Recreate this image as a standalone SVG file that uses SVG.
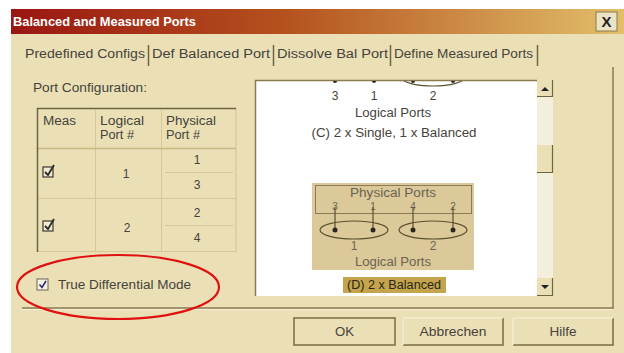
<svg xmlns="http://www.w3.org/2000/svg" width="624" height="353" viewBox="0 0 624 353">
<defs>
<linearGradient id="tb" x1="0" y1="0" x2="1" y2="0">
<stop offset="0" stop-color="#9a1612"/>
<stop offset="0.45" stop-color="#b5521e"/>
<stop offset="1" stop-color="#e2bf6a"/>
</linearGradient>
<clipPath id="pv"><rect x="256" y="81" width="281" height="215"/></clipPath>
</defs>
<style>
text{font-family:"Liberation Sans",Arial,sans-serif;font-size:12px;fill:#45433a}
.c{text-anchor:middle}
.grid{stroke:#d6c896;stroke-width:1;fill:none}
.dk{stroke:#6e6440;stroke-width:1.5;fill:none}
.btn{fill:#ebdfb6;stroke:#7a6c44;stroke-width:1.5}
.chk{fill:#f2ead0;stroke:#4a4636;stroke-width:1.3}
.mark{fill:none;stroke:#2a2a2a;stroke-width:1.8}
.wire{stroke:#5a5030;stroke-width:1.2;fill:none}
.dot{fill:#2a2820}
</style>
<rect width="624" height="353" fill="#ffffff"/>
<g id="dialog">
<rect x="11" y="9" width="613" height="344" fill="#ebdfb6"/>
<rect x="11" y="9" width="613" height="25" fill="url(#tb)"/>
<text x="13" y="26" style="font-weight:bold;fill:#ffffff;font-size:12px" textLength="183" lengthAdjust="spacingAndGlyphs">Balanced and Measured Ports</text>
<g id="close">
<rect x="596" y="12" width="21" height="19" fill="#ece3c4" stroke="#8a7a50"/>
<text x="606.5" y="27" class="c" style="font-weight:bold;font-size:15px;fill:#222">X</text>
</g>
</g>
<g id="tabs">
<text x="25" y="58" textLength="120" lengthAdjust="spacingAndGlyphs">Predefined Configs</text>
<line x1="148.5" y1="45" x2="148.5" y2="66" stroke="#6e6440" stroke-width="1.5"/>
<text x="152" y="58" textLength="118" lengthAdjust="spacingAndGlyphs">Def Balanced Port</text>
<line x1="273.5" y1="45" x2="273.5" y2="66" stroke="#6e6440" stroke-width="1.5"/>
<text x="277" y="58" textLength="111" lengthAdjust="spacingAndGlyphs">Dissolve Bal Port</text>
<line x1="390.5" y1="45" x2="390.5" y2="66" stroke="#6e6440" stroke-width="1.5"/>
<text x="394" y="58" textLength="139" lengthAdjust="spacingAndGlyphs">Define Measured Ports</text>
<line x1="537.5" y1="45" x2="537.5" y2="66" stroke="#6e6440" stroke-width="1.5"/>
</g>
<g id="panel">
<line x1="613" y1="67" x2="613" y2="309" stroke="#8a7a50" stroke-width="1.5"/>
<line x1="22" y1="308" x2="613" y2="308" stroke="#8a7a50" stroke-width="1.5"/>
<line x1="22" y1="309.5" x2="613" y2="309.5" stroke="#f6efd6" stroke-width="1"/>
<text x="33" y="92" textLength="114" lengthAdjust="spacingAndGlyphs">Port Configuration:</text>
</g>
<g id="table">
<line x1="95.5" y1="110" x2="95.5" y2="252" class="grid"/>
<line x1="161.5" y1="110" x2="161.5" y2="252" class="grid"/>
<line x1="37" y1="148.5" x2="236" y2="148.5" stroke="#c9b886" stroke-width="1.5"/>
<line x1="37" y1="198.5" x2="236" y2="198.5" class="grid"/>
<line x1="165" y1="172.5" x2="233" y2="172.5" class="grid"/>
<line x1="165" y1="225.5" x2="233" y2="225.5" class="grid"/>
<line x1="37" y1="251.5" x2="236" y2="251.5" class="grid"/>
<line x1="236" y1="108" x2="236" y2="252" stroke="#d0c290" stroke-width="1"/>
<path d="M37.5 252 V108.5 H236" class="dk"/>
<text x="43" y="125" textLength="33" lengthAdjust="spacingAndGlyphs">Meas</text>
<text x="100" y="125" textLength="44" lengthAdjust="spacingAndGlyphs">Logical</text>
<text x="100" y="139" textLength="34" lengthAdjust="spacingAndGlyphs">Port #</text>
<text x="166" y="125" textLength="50" lengthAdjust="spacingAndGlyphs">Physical</text>
<text x="166" y="139" textLength="34" lengthAdjust="spacingAndGlyphs">Port #</text>
<g id="row1">
<rect x="43" y="167" width="10" height="10" class="chk"/>
<path d="M45 172 L48 175 L54 165" class="mark"/>
<text x="126" y="178" class="c">1</text>
<text x="197" y="164" class="c">1</text>
<text x="197" y="189" class="c">3</text>
</g>
<g id="row2">
<rect x="43" y="221" width="10" height="10" class="chk"/>
<path d="M45 226 L48 229 L54 219" class="mark"/>
<text x="127" y="232" class="c">2</text>
<text x="197" y="217" class="c">2</text>
<text x="197" y="242" class="c">4</text>
</g>
</g>
<g id="true-diff">
<rect x="37" y="279" width="11" height="11" fill="#f6f2e6" stroke="#6a6450" stroke-width="1"/>
<path d="M39.5 284.5 L42 287.5 L46 281" fill="none" stroke="#2a2e6a" stroke-width="1.6"/>
<text x="58" y="289" textLength="133" lengthAdjust="spacingAndGlyphs">True Differential Mode</text>
</g>
<g id="preview">
<rect x="255" y="80" width="282" height="216" fill="#ffffff"/>
<path d="M255.5 296 V80.5 H537" stroke="#8a7a50" stroke-width="1.5" fill="none"/>
<g clip-path="url(#pv)">
<ellipse cx="433" cy="77" rx="32" ry="9" class="wire"/>
<circle cx="335" cy="81" r="2" class="dot"/>
<circle cx="374" cy="81" r="2" class="dot"/>
<circle cx="413" cy="81" r="2" class="dot"/>
<circle cx="453" cy="81" r="2" class="dot"/>
</g>
<text x="335" y="100" class="c">3</text>
<text x="374" y="100" class="c">1</text>
<text x="433" y="100" class="c">2</text>
<text x="393" y="117" class="c" textLength="76" lengthAdjust="spacingAndGlyphs">Logical Ports</text>
<text x="394" y="137" class="c" textLength="165" lengthAdjust="spacingAndGlyphs">(C) 2 x Single, 1 x Balanced</text>
<g id="config-d">
<rect x="312" y="183" width="162" height="87" fill="#dcc99a"/>
<rect x="315.5" y="185.5" width="156" height="28" fill="none" stroke="#8a7a58" stroke-width="1"/>
<text x="393" y="197" class="c" style="fill:#6a6450" textLength="86" lengthAdjust="spacingAndGlyphs">Physical Ports</text>
<text x="335" y="210" class="c" style="font-size:10px;fill:#6a6450">3</text>
<text x="373" y="210" class="c" style="font-size:10px;fill:#6a6450">1</text>
<text x="413" y="210" class="c" style="font-size:10px;fill:#6a6450">4</text>
<text x="453" y="210" class="c" style="font-size:10px;fill:#6a6450">2</text>
<line x1="335" y1="207" x2="335" y2="229" class="wire"/>
<line x1="373" y1="207" x2="373" y2="229" class="wire"/>
<line x1="413" y1="207" x2="413" y2="229" class="wire"/>
<line x1="453" y1="207" x2="453" y2="229" class="wire"/>
<ellipse cx="354" cy="230" rx="34" ry="9" class="wire"/>
<ellipse cx="433" cy="230" rx="34" ry="9" class="wire"/>
<circle cx="335" cy="230" r="2.5" class="dot"/>
<circle cx="373" cy="230" r="2.5" class="dot"/>
<circle cx="413" cy="230" r="2.5" class="dot"/>
<circle cx="453" cy="230" r="2.5" class="dot"/>
<text x="354" y="250" class="c" style="fill:#6a6450">1</text>
<text x="433" y="250" class="c" style="fill:#6a6450">2</text>
<text x="393" y="266" class="c" style="fill:#6a6450" textLength="76" lengthAdjust="spacingAndGlyphs">Logical Ports</text>
<rect x="343" y="277" width="103" height="16" fill="#c4a44c"/>
<text x="394" y="289" class="c" style="fill:#2a2618" textLength="94" lengthAdjust="spacingAndGlyphs">(D) 2 x Balanced</text>
</g>
</g>
<g id="scrollbar">
<rect x="537" y="80" width="16" height="216" fill="#f4eedc"/>
<rect x="537" y="80" width="16" height="17" fill="#ebdfb6"/>
<path d="M537 96.5 H552.5 V80" stroke="#6e6440" stroke-width="1.2" fill="none"/>
<path d="M541 91 L545 87 L549 91 Z" fill="#222"/>
<rect x="537" y="145" width="16" height="28" fill="#ebdfb6"/>
<path d="M537 172.5 H552.5 V145" stroke="#6e6440" stroke-width="1.2" fill="none"/>
<rect x="537" y="278" width="16" height="18" fill="#ebdfb6"/>
<path d="M537 295.5 H552.5 V278" stroke="#6e6440" stroke-width="1.2" fill="none"/>
<path d="M541 285 L545 289 L549 285 Z" fill="#222"/>
</g>
<g id="btn-ok">
<rect x="294" y="318" width="101" height="27" class="btn" stroke-width="2"/>
<text x="344.5" y="336" class="c" textLength="19" lengthAdjust="spacingAndGlyphs">OK</text>
</g>
<g id="btn-cancel">
<path d="M403 345 H503 V318" stroke="#7a6c44" stroke-width="1.5" fill="none"/>
<path d="M403 345 V318 H503" stroke="#f8f2dc" stroke-width="1" fill="none"/>
<text x="453" y="336" class="c" textLength="67" lengthAdjust="spacingAndGlyphs">Abbrechen</text>
</g>
<g id="btn-help">
<path d="M513 345 H613 V318" stroke="#7a6c44" stroke-width="1.5" fill="none"/>
<path d="M513 345 V318 H613" stroke="#f8f2dc" stroke-width="1" fill="none"/>
<text x="563" y="336" class="c" textLength="27" lengthAdjust="spacingAndGlyphs">Hilfe</text>
</g>
<ellipse id="highlight" cx="118" cy="287" rx="101" ry="32" fill="none" stroke="#e01010" stroke-width="2.2"/>
</svg>
